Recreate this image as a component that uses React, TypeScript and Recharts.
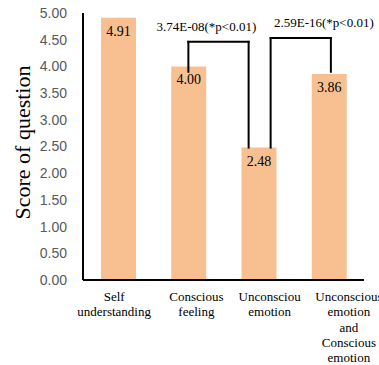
import React from 'react'
import {
  BarChart, Bar, XAxis, YAxis, LabelList,
  ReferenceLine, ReferenceDot,
} from 'recharts'

const categories = [
  'Self\nunderstanding',
  'Conscious\nfeeling',
  'Unconsciou\nemotion',
  'Unconscious\nemotion\nand\nConscious\nemotion',
]
const scores = [4.91, 4.0, 2.48, 3.86]
const yTicks = [0, 0.5, 1, 1.5, 2, 2.5, 3, 3.5, 4, 4.5, 5]
const pLabels = ['3.74E-08(*p<0.01)', '2.59E-16(*p<0.01)']

const data = categories.map((name, i) => ({ name, score: scores[i] }))

const SERIF = '"Liberation Serif", "Times New Roman", serif'
const SANS = '"Liberation Sans", Arial, sans-serif'

// tick label nudges, the source figure isn't perfectly centred
const tickShift = [-4, 8, 11, 20]

const XTick = ({ x, y, payload, index }: any) => {
  const lines = String(payload.value).split('\n')
  return (
    <g transform={`translate(${x + (tickShift[index] ?? 0)},${y})`}>
      <text textAnchor="middle" fontFamily={SERIF} fontSize={13} fill="#000">
        {lines.map((l, i) => (
          <tspan key={i} x={0} dy={i === 0 ? 21 : 15.3}>{l}</tspan>
        ))}
      </text>
    </g>
  )
}

// significance brackets between bars (indices), with small pixel nudges
const brackets = [
  { from: 1, to: 2, top: 4.46, dx1: 0, dx2: -10, b1: 3.9, b2: 2.48, tx: 18, ty: 4.74 },
  { from: 2, to: 3, top: 4.53, dx1: 12, dx2: 2, b1: 2.48, b2: 3.9, tx: -5, ty: 4.83 },
]

const shifted = (dxA: number, dxB: number) => (p: any) => (
  <line
    x1={p.x1 + dxA} y1={p.y1} x2={p.x2 + dxB} y2={p.y2}
    stroke="#000" strokeWidth={2} strokeLinecap="square"
  />
)

export default function App() {
  return (
    <div style={{ position: 'absolute', left: 0, top: 0, background: '#fff' }}>
      <BarChart
        width={379}
        height={365}
        data={data}
        margin={{ top: 13, right: 15, left: 0, bottom: 0 }}
      >
        <XAxis
          dataKey="name"
          interval={0}
          height={85}
          tickSize={0}
          tickMargin={0}
          tick={<XTick />}
          axisLine={{ stroke: '#000', strokeWidth: 2 }}
        />
        <YAxis
          width={83}
          domain={[0, 5]}
          ticks={yTicks}
          interval={0}
          tickSize={0}
          tickMargin={16}
          tickFormatter={(v: number) => v.toFixed(2)}
          tick={{ fontSize: 14, fill: '#595959', fontFamily: SANS }}
          axisLine={{ stroke: '#000', strokeWidth: 2 }}
          label={{
            content: ({ viewBox }: any) => (
              <text
                x={viewBox.x + 22}
                y={viewBox.y + viewBox.height / 2 - 4}
                transform={`rotate(-90, ${viewBox.x + 22}, ${viewBox.y + viewBox.height / 2 - 4})`}
                textAnchor="middle"
                dominantBaseline="central"
                fontFamily={SERIF}
                fontSize={22}
                fill="#000"
              >
                Score of question
              </text>
            ),
          }}
        />
        <Bar dataKey="score" fill="#F8C090" barSize={35} isAnimationActive={false}>
          <LabelList
            dataKey="score"
            position="insideTop"
            offset={8}
            formatter={(v: any) => Number(v).toFixed(2)}
            style={{ fontFamily: SERIF, fontSize: 14, fill: '#000' }}
          />
        </Bar>
        {brackets.map((b, i) => {
          const a = categories[b.from]
          const c = categories[b.to]
          return (
            <React.Fragment key={i}>
              <ReferenceLine ifOverflow="visible" shape={shifted(b.dx1, b.dx1)}
                segment={[{ x: a, y: b.b1 }, { x: a, y: b.top }]} />
              <ReferenceLine ifOverflow="visible" shape={shifted(b.dx1, b.dx2)}
                segment={[{ x: a, y: b.top }, { x: c, y: b.top }]} />
              <ReferenceLine ifOverflow="visible" shape={shifted(b.dx2, b.dx2)}
                segment={[{ x: c, y: b.top }, { x: c, y: b.b2 }]} />
              <ReferenceDot
                x={b.tx > 0 ? a : c}
                y={b.ty}
                r={0}
                fill="none"
                stroke="none"
                ifOverflow="visible"
                label={{
                  content: ({ viewBox }: any) => (
                    <text
                      x={viewBox.x + viewBox.width / 2 + b.tx}
                      y={viewBox.y + viewBox.height / 2}
                      textAnchor="middle"
                      dominantBaseline="central"
                      fontFamily={SERIF}
                      fontSize={13}
                      fill="#000"
                    >
                      {pLabels[i]}
                    </text>
                  ),
                }}
              />
            </React.Fragment>
          )
        })}
      </BarChart>
    </div>
  )
}
